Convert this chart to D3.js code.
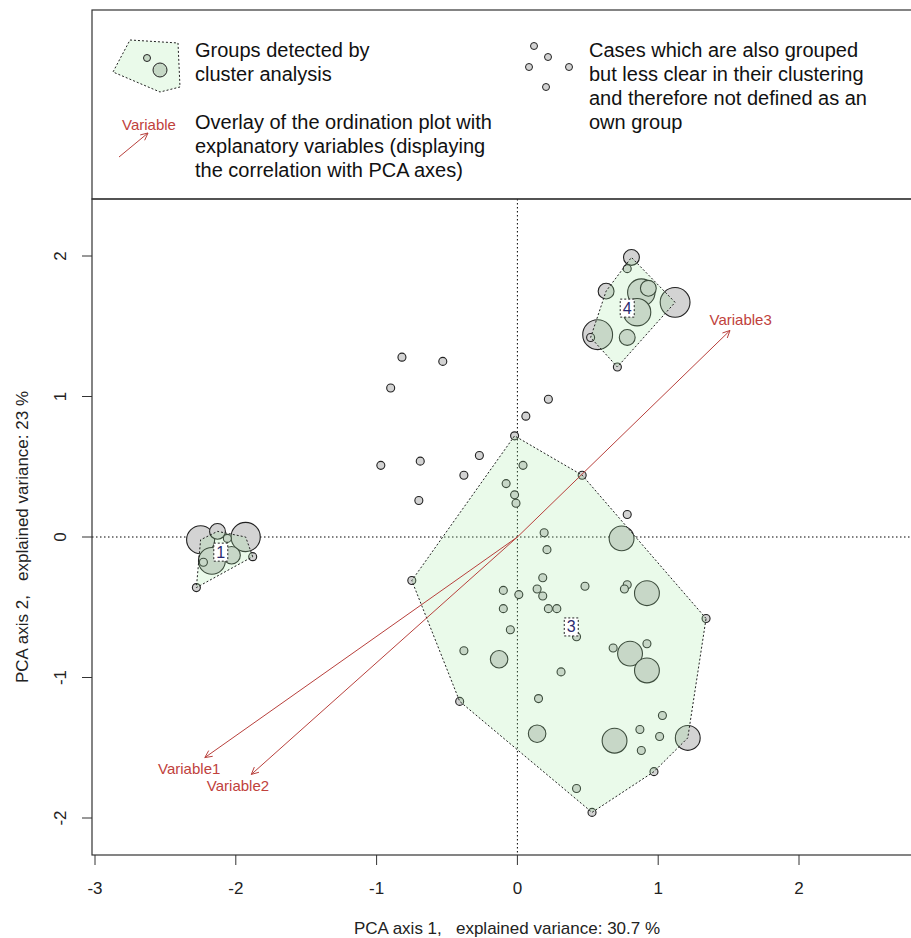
<!DOCTYPE html>
<html>
<head>
<meta charset="utf-8">
<script src="https://cdn.jsdelivr.net/npm/d3@7"></script>
<style>
  body { margin: 0; background: #fff; }
  svg { font-family: "Liberation Sans", Arial, sans-serif; }
</style>
</head>
<body>
<div id="viz"></div>
<script>
// PCA scores (axis 1, axis 2, point size)
const group1X = [-2.25, -2.13, -1.93, -2.06, -2.03, -2.17, -2.23, -1.88, -2.28];
const group1Y = [-0.02, 0.04, 0.00, -0.01, -0.13, -0.17, -0.18, -0.14, -0.36];
const group1S = [3.5, 1.8, 3.7, 1, 2, 3.3, 1, 1, 1];

const group3X = [-0.02, 0.04, 0.46, -0.08, -0.02, -0.01, 0.19, 0.74, 0.21, -0.75, 0.18, 0.48, 0.78, 0.76, 0.92,
  -0.10, 0.01, 0.14, 0.18, -0.10, 0.22, 0.28, 1.34, -0.05, 0.42, -0.38, -0.13, 0.68, 0.80, 0.92, 0.92, 0.31,
  -0.41, 0.15, 1.03, 0.14, 0.87, 0.69, 1.01, 0.88, 1.21, 0.97, 0.42, 0.53];
const group3Y = [0.72, 0.51, 0.44, 0.38, 0.30, 0.24, 0.03, -0.01, -0.09, -0.31, -0.29, -0.35, -0.34, -0.37, -0.40,
  -0.38, -0.41, -0.37, -0.42, -0.51, -0.51, -0.51, -0.58, -0.66, -0.71, -0.81, -0.87, -0.79, -0.83, -0.76, -0.95, -0.96,
  -1.17, -1.15, -1.27, -1.40, -1.37, -1.45, -1.42, -1.52, -1.43, -1.67, -1.79, -1.96];
const group3S = [1, 1, 1, 1, 1, 1, 1, 3, 1, 1, 1, 1, 1, 1, 3,
  1, 1, 1, 1, 1, 1, 1, 1, 1, 1, 1, 2, 1, 3, 1, 3, 1,
  1, 1, 1, 2, 1, 3, 1, 1, 3, 1, 1, 1];

const group4X = [0.81, 0.78, 0.63, 0.88, 0.93, 1.12, 0.85, 0.57, 0.52, 0.78, 0.71];
const group4Y = [1.99, 1.91, 1.75, 1.74, 1.77, 1.67, 1.60, 1.44, 1.42, 1.42, 1.21];
const group4S = [1.8, 1, 1.8, 3.4, 1.8, 3.8, 3.4, 3.8, 1, 1.8, 1];

const looseX = [-0.82, -0.53, -0.90, 0.22, 0.06, -0.97, -0.69, -0.27, -0.38, -0.70, 0.78];
const looseY = [1.28, 1.25, 1.06, 0.98, 0.86, 0.51, 0.54, 0.58, 0.44, 0.26, 0.16];

const groupNames = ["1", "3", "4"];

// explanatory variables (correlation with PCA axes)
const varNames = ["Variable1", "Variable2", "Variable3"];
const varX = [-2.22, -1.89, 1.51];
const varY = [-1.57, -1.69, 1.47];

const xTicks = [-3, -2, -1, 0, 1, 2];
const yTicks = [-2, -1, 0, 1, 2];
const xTitle = "PCA axis 1,   explained variance: 30.7 %";
const yTitle = "PCA axis 2,   explained variance: 23 %";

const legendText1 = ["Groups detected by", "cluster analysis"];
const legendText2 = ["Overlay of the ordination plot with", "explanatory variables (displaying", "the correlation with PCA axes)"];
const legendText3 = ["Cases which are also grouped", "but less clear in their clustering", "and therefore not defined as an", "own group"];

const width = 911;
const height = 938;
const arrowCol = "#b8403c";
const textCol = "#c0413c";

const svg = d3.select("#viz")
  .append("svg")
  .attr("width", width)
  .attr("height", height);

const x = d3.scaleLinear().domain([-3, 2]).range([95, 799]);
const y = d3.scaleLinear().domain([-2, 2]).range([818, 256]);
const r = d3.scaleSqrt().domain([1, 4]).range([4, 15.5]);

const plotLeft = 92, plotTop = 199, plotBottom = 855, plotRight = 916;

function pts(xs, ys, ss, g) {
  return xs.map((v, i) => ({ x: v, y: ys[i], s: ss ? ss[i] : 1, g: g }));
}
const groups = [
  pts(group1X, group1Y, group1S, "1"),
  pts(group3X, group3Y, group3S, "3"),
  pts(group4X, group4Y, group4S, "4")
];
const loose = pts(looseX, looseY, null, null);
const allPoints = groups.flat().concat(loose);

// zero lines
svg.append("line")
  .attr("x1", plotLeft).attr("x2", plotRight)
  .attr("y1", y(0)).attr("y2", y(0))
  .attr("stroke", "#000").attr("stroke-dasharray", "1.5,2.5");
svg.append("line")
  .attr("x1", x(0)).attr("x2", x(0))
  .attr("y1", plotTop).attr("y2", plotBottom)
  .attr("stroke", "#000").attr("stroke-dasharray", "1.5,2.5");

// points (largest first so small ones stay visible)
svg.selectAll(".pt")
  .data(allPoints.slice().sort((a, b) => b.s - a.s))
  .enter().append("circle")
  .attr("class", "pt")
  .attr("cx", d => x(d.x))
  .attr("cy", d => y(d.y))
  .attr("r", d => r(d.s))
  .attr("fill", "#d3d3d3")
  .attr("stroke", "#222")
  .attr("stroke-width", 1.1);

// group hulls
groups.forEach(g => {
  const hull = d3.polygonHull(g.map(d => [x(d.x), y(d.y)]));
  svg.append("path")
    .attr("d", "M" + hull.join("L") + "Z")
    .attr("fill", "rgb(160,230,160)")
    .attr("fill-opacity", 0.22)
    .attr("stroke", "#222")
    .attr("stroke-width", 1)
    .attr("stroke-dasharray", "2,2");
});

// group labels at the centroid
groups.forEach((g, i) => {
  const cx = x(d3.mean(g, d => d.x));
  const cy = y(d3.mean(g, d => d.y));
  svg.append("rect")
    .attr("x", cx - 7).attr("y", cy - 9)
    .attr("width", 14).attr("height", 18)
    .attr("fill", "#fff")
    .attr("stroke", "#222")
    .attr("stroke-dasharray", "2,2");
  svg.append("text")
    .attr("x", cx).attr("y", cy + 5.5)
    .attr("text-anchor", "middle")
    .attr("font-size", 16)
    .attr("fill", "#2a2a70")
    .text(groupNames[i]);
});

// arrows
function arrow(sel, x0, y0, x1, y1, len) {
  const a = Math.atan2(y1 - y0, x1 - x0);
  sel.append("line")
    .attr("x1", x0).attr("y1", y0).attr("x2", x1).attr("y2", y1)
    .attr("stroke", arrowCol).attr("stroke-width", 1);
  [-0.45, 0.45].forEach(da => {
    sel.append("line")
      .attr("x1", x1).attr("y1", y1)
      .attr("x2", x1 - len * Math.cos(a + da))
      .attr("y2", y1 - len * Math.sin(a + da))
      .attr("stroke", arrowCol).attr("stroke-width", 1);
  });
}

varNames.forEach((name, i) => {
  arrow(svg, x(0), y(0), x(varX[i]), y(varY[i]), 8);
  // label sits just beyond the arrow tip
  svg.append("text")
    .attr("x", x(varX[i] * 1.05))
    .attr("y", y(varY[i] * 1.05) + 5)
    .attr("text-anchor", "middle")
    .attr("font-size", 15)
    .attr("fill", textCol)
    .text(name);
});

// plot frame
svg.append("rect")
  .attr("x", plotLeft).attr("y", plotTop)
  .attr("width", plotRight - plotLeft).attr("height", plotBottom - plotTop)
  .attr("fill", "none").attr("stroke", "#333").attr("stroke-width", 1.2);

// axes
const xAxis = svg.append("g");
xTicks.forEach(t => {
  xAxis.append("line")
    .attr("x1", x(t)).attr("x2", x(t))
    .attr("y1", plotBottom).attr("y2", plotBottom + 10)
    .attr("stroke", "#333");
  xAxis.append("text")
    .attr("x", x(t)).attr("y", plotBottom + 39)
    .attr("text-anchor", "middle")
    .attr("font-size", 17)
    .attr("fill", "#222")
    .text(t);
});
const yAxis = svg.append("g");
yTicks.forEach(t => {
  yAxis.append("line")
    .attr("x1", plotLeft - 10).attr("x2", plotLeft)
    .attr("y1", y(t)).attr("y2", y(t))
    .attr("stroke", "#333");
  yAxis.append("text")
    .attr("transform", `translate(66,${y(t)}) rotate(-90)`)
    .attr("text-anchor", "middle")
    .attr("font-size", 17)
    .attr("fill", "#222")
    .text(t);
});
svg.append("text")
  .attr("x", 507).attr("y", 934)
  .attr("text-anchor", "middle")
  .attr("font-size", 17)
  .attr("fill", "#222")
  .style("white-space", "pre")
  .text(xTitle);
svg.append("text")
  .attr("transform", `translate(28,537) rotate(-90)`)
  .attr("text-anchor", "middle")
  .attr("font-size", 17)
  .attr("fill", "#222")
  .style("white-space", "pre")
  .text(yTitle);

// legend box
const leg = svg.append("g");
leg.append("rect")
  .attr("x", plotLeft).attr("y", 10)
  .attr("width", plotRight - plotLeft).attr("height", plotTop - 10)
  .attr("fill", "none").attr("stroke", "#333").attr("stroke-width", 1.2);

// legend: group icon
const icon = leg.append("g").attr("transform", "translate(112,40)");
icon.append("path")
  .attr("d", "M18,0L66,3L68,47L48,52L1,32Z")
  .attr("fill", "rgb(160,230,160)").attr("fill-opacity", 0.22)
  .attr("stroke", "#222").attr("stroke-dasharray", "2,2");
icon.append("circle").attr("cx", 35).attr("cy", 18).attr("r", 3.5)
  .attr("fill", "#c5d8c5").attr("stroke", "#222");
icon.append("circle").attr("cx", 48).attr("cy", 30).attr("r", 7)
  .attr("fill", "#c5d8c5").attr("stroke", "#222");

function lines(sel, tx, ty, arr) {
  arr.forEach((s, i) => {
    sel.append("text")
      .attr("x", tx).attr("y", ty + i * 24)
      .attr("font-size", 20)
      .attr("fill", "#111")
      .text(s);
  });
}
lines(leg, 195, 57, legendText1);
lines(leg, 195, 129, legendText2);
lines(leg, 589, 57, legendText3);

// legend: arrow icon
leg.append("text")
  .attr("x", 149).attr("y", 130)
  .attr("text-anchor", "middle")
  .attr("font-size", 15)
  .attr("fill", textCol)
  .text("Variable");
arrow(leg, 119, 157, 148, 133, 8);

// legend: loose cases icon
const dots = [[534, 46], [548, 57], [529, 67], [569, 67], [546, 87]];
leg.selectAll(".ld")
  .data(dots)
  .enter().append("circle")
  .attr("class", "ld")
  .attr("cx", d => d[0]).attr("cy", d => d[1])
  .attr("r", 3.5)
  .attr("fill", "#d3d3d3").attr("stroke", "#222");
</script>
</body>
</html>
